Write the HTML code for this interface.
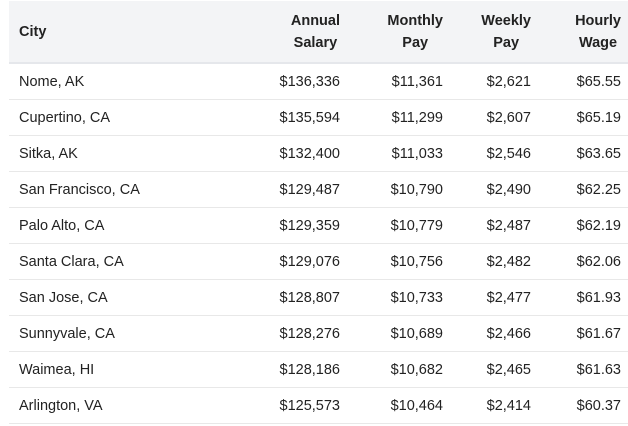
<!DOCTYPE html>
<html><head><meta charset="utf-8"><style>
body{margin:0;background:#fff;width:628px;height:426px;overflow:hidden;font-family:"Liberation Sans",sans-serif;color:#222;}
table{position:absolute;left:9px;top:1px;width:619px;border-collapse:collapse;font-size:14.5px;}
th{background:#f3f4f6;font-weight:bold;height:61px;padding:0;line-height:22px;text-align:right;color:#222;border-bottom:2px solid #e5e7eb;}
th span{display:inline-block;text-align:center;}
td{height:35px;padding:0;text-align:right;border-bottom:1px solid #e8e8e8;}
th:first-child,td:first-child{text-align:left;padding-left:10px;}
th:last-child,td:last-child{padding-right:7px;}
</style></head><body>
<table>
<colgroup><col style="width:150px"><col style="width:181px"><col style="width:103px"><col style="width:88px"><col style="width:97px"></colgroup>
<thead><tr>
<th>City</th>
<th><span>Annual<br>Salary</span></th>
<th><span>Monthly<br>Pay</span></th>
<th><span>Weekly<br>Pay</span></th>
<th><span>Hourly<br>Wage</span></th>
</tr></thead>
<tbody>
<tr><td>Nome, AK</td><td>$136,336</td><td>$11,361</td><td>$2,621</td><td>$65.55</td></tr>
<tr><td>Cupertino, CA</td><td>$135,594</td><td>$11,299</td><td>$2,607</td><td>$65.19</td></tr>
<tr><td>Sitka, AK</td><td>$132,400</td><td>$11,033</td><td>$2,546</td><td>$63.65</td></tr>
<tr><td>San Francisco, CA</td><td>$129,487</td><td>$10,790</td><td>$2,490</td><td>$62.25</td></tr>
<tr><td>Palo Alto, CA</td><td>$129,359</td><td>$10,779</td><td>$2,487</td><td>$62.19</td></tr>
<tr><td>Santa Clara, CA</td><td>$129,076</td><td>$10,756</td><td>$2,482</td><td>$62.06</td></tr>
<tr><td>San Jose, CA</td><td>$128,807</td><td>$10,733</td><td>$2,477</td><td>$61.93</td></tr>
<tr><td>Sunnyvale, CA</td><td>$128,276</td><td>$10,689</td><td>$2,466</td><td>$61.67</td></tr>
<tr><td>Waimea, HI</td><td>$128,186</td><td>$10,682</td><td>$2,465</td><td>$61.63</td></tr>
<tr><td>Arlington, VA</td><td>$125,573</td><td>$10,464</td><td>$2,414</td><td>$60.37</td></tr>
</tbody></table>
</body></html>
